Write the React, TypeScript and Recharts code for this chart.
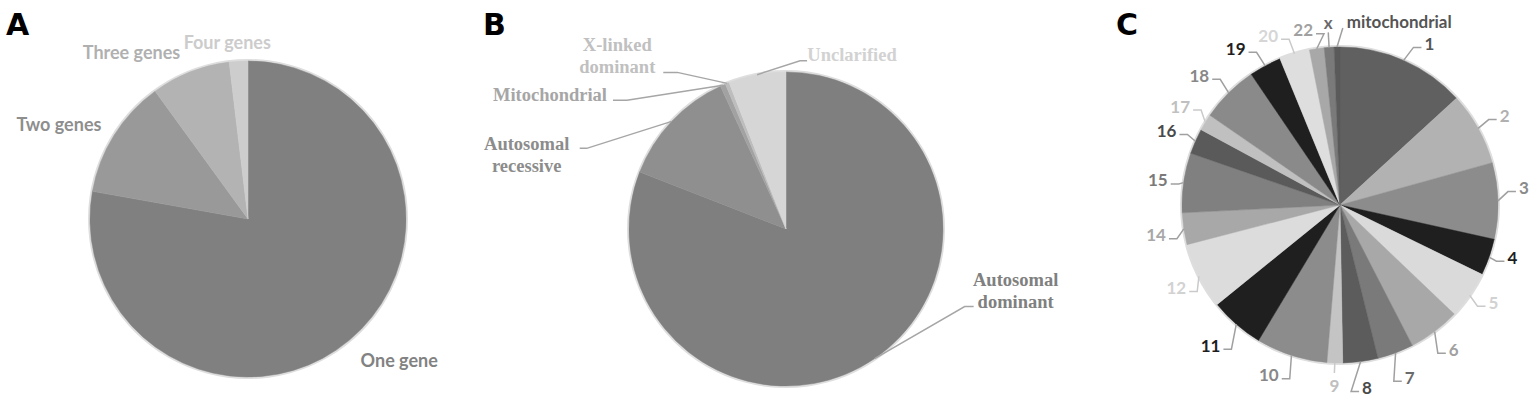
import { PieChart, Pie, Cell } from "recharts";

// A: number of genes involved
const geneCountNames = ["One gene", "Two genes", "Three genes", "Four genes"];
const geneCountShares = [77.8, 12.2, 8.1, 1.9];

// B: mode of inheritance
const inheritanceNames = [
  "Autosomal dominant",
  "Autosomal recessive",
  "Mitochondrial",
  "X-linked dominant",
  "Unclarified",
];
const inheritanceShares = [80.9, 12.25, 0.55, 0.4, 5.9];

// C: chromosome location
const chromosomeNames = [
  "1", "2", "3", "4", "5", "6", "7", "8", "9", "10", "11",
  "12", "14", "15", "16", "17", "18", "19", "20", "22", "x", "mitochondrial",
];
const chromosomeShares = [
  13.2, 7.5, 7.8, 3.75, 4.9, 5.3, 3.7, 3.6, 1.6, 7.3, 5.55,
  6.8, 3.25, 6.1, 2.6, 1.7, 5.9, 3.3, 3.1, 1.5, 1.0, 0.6,
];

// colours
const geneFills = ["#808080", "#999999", "#b3b3b3", "#cdcdcd"];
const geneTextColors = ["#828282", "#8e8e8e", "#b0b0b0", "#cccccc"];

const inheritanceFills = ["#7f7f7f", "#8f8f8f", "#a2a2a2", "#bdbdbd", "#d6d6d6"];
const inheritanceTextColors = ["#808080", "#8c8c8c", "#a6a6a6", "#c0c0c0", "#d2d2d2"];

const chromosomeFills = [
  "#606060", "#b2b2b2", "#8c8c8c", "#1f1f1f", "#dadada", "#a8a8a8", "#7a7a7a",
  "#5c5c5c", "#c4c4c4", "#8c8c8c", "#1f1f1f", "#dcdcdc", "#a8a8a8", "#808080",
  "#5a5a5a", "#c0c0c0", "#8a8a8a", "#1f1f1f", "#dedede", "#a8a8a8", "#7a7a7a", "#5a5a5a",
];
const chromosomeTextColors = [
  "#555555", "#b0b0b0", "#8a8a8a", "#1e1e1e", "#d2d2d2", "#a0a0a0", "#6a6a6a",
  "#4a4a4a", "#c0c0c0", "#888888", "#1e1e1e", "#d2d2d2", "#a8a8a8", "#7a7a7a",
  "#4a4a4a", "#c0c0c0", "#888888", "#1e1e1e", "#d6d6d6", "#a0a0a0", "#6a6a6a", "#555555",
];

const geneData = geneCountNames.map((name, i) => ({ name, value: geneCountShares[i] }));
const inheritanceData = inheritanceNames.map((name, i) => ({ name, value: inheritanceShares[i] }));
const chromosomeData = chromosomeNames.map((name, i) => ({ name, value: chromosomeShares[i] }));

const RADIAN = Math.PI / 180;
function polar(cx: number, cy: number, r: number, angle: number) {
  return { x: cx + r * Math.cos(-angle * RADIAN), y: cy + r * Math.sin(-angle * RADIAN) };
}

// label nudges (dx, dy) for panel A
const geneLabelNudge = [
  [-3, 3],
  [6, 0],
  [-2, 1],
  [-10, 3],
];

const renderGeneLabel = (p: any) => {
  const { cx, cy, midAngle, outerRadius, index } = p;
  const e = polar(cx, cy, outerRadius + 22, midAngle);
  const side = Math.cos(-midAngle * RADIAN);
  const anchor = Math.abs(side) < 0.2 ? "middle" : side > 0 ? "start" : "end";
  const n = geneLabelNudge[index];
  return (
    <text
      x={e.x + n[0]}
      y={e.y + n[1]}
      textAnchor={anchor}
      dominantBaseline="central"
      fill={geneTextColors[index]}
      fontFamily="Lato"
      fontWeight={700}
      fontSize={18}
    >
      {geneCountNames[index]}
    </text>
  );
};

// leader layout for panel B, offsets from the slice edge point
const inheritanceLayout = [
  { elbow: [90, -52], hseg: 9, text: [141, -79] },
  { elbow: [-85, 27], hseg: -7, text: [-145, 23] },
  { elbow: [-96, 15], hseg: -14, text: [-173, 10] },
  { elbow: [-50, -11], hseg: -14, text: [-110, -38] },
  { elbow: [43, -14], hseg: 7, text: [95, -20] },
];

const renderInheritanceLabel = (p: any) => {
  const { cx, cy, midAngle, outerRadius, index } = p;
  const e = polar(cx, cy, outerRadius, midAngle);
  const l = inheritanceLayout[index];
  const bx = e.x + l.elbow[0];
  const by = e.y + l.elbow[1];
  const lines = inheritanceNames[index].split(" ");
  return (
    <g>
      <path
        d={`M${e.x},${e.y}L${bx},${by}L${bx + l.hseg},${by}`}
        stroke="#a6a6a6"
        strokeWidth={1.5}
        fill="none"
      />
      {lines.map((t, i) => (
        <text
          key={t}
          x={e.x + l.text[0]}
          y={e.y + l.text[1] + i * 22}
          textAnchor="middle"
          dominantBaseline="central"
          fill={inheritanceTextColors[index]}
          fontFamily="Liberation Serif"
          fontWeight={700}
          fontSize={18.5}
        >
          {t}
        </text>
      ))}
    </g>
  );
};

// nudges for panel C labels: dx, dy, mode
const chromosomeNudge: Record<string, [number, number, string?]> = {
  "1": [5, -2],
  "2": [0, -3],
  "3": [-2, -9],
  "4": [-4, 0],
  "5": [-2, 4],
  "6": [-4, 12],
  "7": [-6, 17],
  "8": [-11, 18],
  "9": [0, -2, "down"],
  "10": [2, 12],
  "11": [3, 16],
  "12": [9, 10],
  "14": [5, 8],
  "15": [7, 3],
  "16": [3, -2],
  "17": [6, -6],
  "18": [0, -5],
  "19": [-3, -3],
  "20": [-2, -3],
  "22": [9, -3],
  x: [0, -3, "up"],
  mitochondrial: [6, -7, "diag"],
};

const renderChromosomeLabel = (p: any) => {
  const { cx, cy, midAngle, outerRadius, index } = p;
  const name = chromosomeNames[index];
  const e = polar(cx, cy, outerRadius, midAngle);
  const b0 = polar(cx, cy, outerRadius + 12, midAngle);
  const [dx, dy, mode] = chromosomeNudge[name] ?? [0, 0];
  const bx = b0.x + dx;
  const by = b0.y + dy;
  const side = Math.cos(-midAngle * RADIAN) >= 0 ? 1 : -1;
  const light = ["#d2d2d2", "#c0c0c0", "#d6d6d6"].includes(chromosomeTextColors[index]);
  const lineColor = light ? "#cacaca" : "#a0a0a0";
  let d = `M${e.x},${e.y}L${bx},${by}`;
  let tx = bx;
  let ty = by;
  let anchor = "middle";
  if (mode === "up") {
    ty = by - 10;
  } else if (mode === "down") {
    ty = by + 13;
  } else if (mode === "diag") {
    tx = bx + 4;
    ty = by - 7;
    anchor = "start";
  } else {
    d += `L${bx + 8 * side},${by}`;
    tx = bx + 11 * side;
    ty = by - 4;
    anchor = side > 0 ? "start" : "end";
  }
  return (
    <g>
      <path d={d} stroke={lineColor} strokeWidth={1.5} fill="none" />
      <text
        x={tx}
        y={ty}
        textAnchor={anchor}
        dominantBaseline="central"
        fill={chromosomeTextColors[index]}
        fontFamily="Lato"
        fontWeight={700}
        fontSize={17}
      >
        {name}
      </text>
    </g>
  );
};

const ring = [{ value: 1 }];

export default function App() {
  return (
    <div
      style={{
        position: "absolute",
        left: 0,
        top: 0,
        width: 1535,
        height: 405,
        background: "#ffffff",
      }}
    >
      <PieChart width={1535} height={405} margin={{ top: 0, right: 0, bottom: 0, left: 0 }}>
        {/* A */}
        <Pie
          data={ring}
          dataKey="value"
          cx={248}
          cy={219}
          innerRadius={157}
          outerRadius={160}
          fill="#dedede"
          stroke="none"
          isAnimationActive={false}
        />
        <Pie
          data={geneData}
          dataKey="value"
          nameKey="name"
          cx={248}
          cy={219}
          outerRadius={158}
          startAngle={90}
          endAngle={-270}
          label={renderGeneLabel}
          labelLine={false}
          isAnimationActive={false}
        >
          {geneData.map((d, i) => (
            <Cell key={d.name} fill={geneFills[i]} stroke={geneFills[i]} strokeWidth={0.5} />
          ))}
        </Pie>

        {/* B */}
        <Pie
          data={ring}
          dataKey="value"
          cx={786}
          cy={229}
          innerRadius={156}
          outerRadius={159}
          fill="#dedede"
          stroke="none"
          isAnimationActive={false}
        />
        <Pie
          data={inheritanceData}
          dataKey="value"
          nameKey="name"
          cx={786}
          cy={229}
          outerRadius={157}
          startAngle={90}
          endAngle={-270}
          label={renderInheritanceLabel}
          labelLine={false}
          isAnimationActive={false}
        >
          {inheritanceData.map((d, i) => (
            <Cell key={d.name} fill={inheritanceFills[i]} stroke={inheritanceFills[i]} strokeWidth={0.5} />
          ))}
        </Pie>

        {/* C */}
        <Pie
          data={ring}
          dataKey="value"
          cx={1340}
          cy={205}
          innerRadius={157}
          outerRadius={160}
          fill="#dedede"
          stroke="none"
          isAnimationActive={false}
        />
        <Pie
          data={chromosomeData}
          dataKey="value"
          nameKey="name"
          cx={1340}
          cy={205}
          outerRadius={158}
          startAngle={90}
          endAngle={-270}
          label={renderChromosomeLabel}
          labelLine={false}
          isAnimationActive={false}
        >
          {chromosomeData.map((d, i) => (
            <Cell key={d.name} fill={chromosomeFills[i]} stroke={chromosomeFills[i]} strokeWidth={0.5} />
          ))}
        </Pie>
      </PieChart>
      <svg
        width={1535}
        height={405}
        style={{ position: "absolute", left: 0, top: 0, pointerEvents: "none" }}
      >
        <text x={6} y={35} fontFamily="DejaVu Sans" fontWeight={700} fontSize={30} fill="#000">
          A
        </text>
        <text x={483} y={35} fontFamily="DejaVu Sans" fontWeight={700} fontSize={30} fill="#000">
          B
        </text>
        <text x={1116} y={35} fontFamily="DejaVu Sans" fontWeight={700} fontSize={30} fill="#000">
          C
        </text>
      </svg>
    </div>
  );
}
